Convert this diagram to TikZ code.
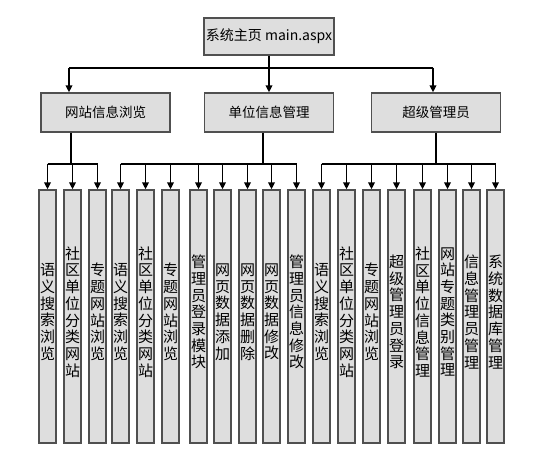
\documentclass[tikz,border=0pt]{standalone}
\usepackage{fontspec}
\newfontfamily\cjk{Noto Sans CJK SC}
\usetikzlibrary{arrows.meta,calc}
\definecolor{boxfill}{HTML}{DEDEDE}
\definecolor{boxline}{HTML}{505050}
\newcommand\leafnode[3]{%
  \node[leaf] (#1) at (#2,316.5) {};
  \node[leaftext] (#1t) at ([yshift=4.5pt]#1.center) {#3};}
\begin{document}
\begin{tikzpicture}[x=1pt,y=-1pt,
  box/.style={draw=boxline,fill=boxfill,line width=1.3pt,inner sep=0pt},
  topbox/.style={box,minimum width=130pt,minimum height=37pt,font=\cjk\fontsize{14}{16}\selectfont},
  midbox/.style={box,minimum width=129pt,minimum height=39pt,font=\cjk\fontsize{13.5}{16}\selectfont},
  leaf/.style={box,minimum width=17pt,minimum height=253pt},
  leaftext/.style={inner sep=0pt,align=center,font=\cjk\fontsize{15}{16.7}\selectfont},
  ln/.style={draw=black,line width=1.8pt},
  arr/.style={ln,-{Triangle[width=6.5pt,length=7pt]}}]
\useasboundingbox (0,0) rectangle (537,458);
\node[topbox] (top) at (269,36.5) {系统主页 main.aspx};
\node[midbox] (l1) at (105.5,112.5) {网站信息浏览};
\node[midbox] (l2) at (269,112.5) {单位信息管理};
\node[midbox] (l3) at (436,112.5) {超级管理员};
% leaves
\leafnode{c1}{47.5}{语\\义\\搜\\索\\浏\\览}
\leafnode{c2}{72.5}{社\\区\\单\\位\\分\\类\\网\\站}
\leafnode{c3}{97.5}{专\\题\\网\\站\\浏\\览}
\leafnode{c4}{120.5}{语\\义\\搜\\索\\浏\\览}
\leafnode{c5}{145.5}{社\\区\\单\\位\\分\\类\\网\\站}
\leafnode{c6}{170.5}{专\\题\\网\\站\\浏\\览}
\leafnode{c7}{198.5}{管\\理\\员\\登\\录\\模\\块}
\leafnode{c8}{222.5}{网\\页\\数\\据\\添\\加}
\leafnode{c9}{247.5}{网\\页\\数\\据\\删\\除}
\leafnode{c10}{271.5}{网\\页\\数\\据\\修\\改}
\leafnode{c11}{296.5}{管\\理\\员\\信\\息\\修\\改}
\leafnode{c12}{321.5}{语\\义\\搜\\索\\浏\\览}
\leafnode{c13}{346.5}{社\\区\\单\\位\\分\\类\\网\\站}
\leafnode{c14}{371.5}{专\\题\\网\\站\\浏\\览}
\leafnode{c15}{396.5}{超\\级\\管\\理\\员\\登\\录}
\leafnode{c16}{422.5}{社\\区\\单\\位\\信\\息\\管\\理}
\leafnode{c17}{447.5}{网\\站\\专\\题\\类\\别\\管\\理}
\leafnode{c18}{471.5}{信\\息\\管\\理\\员\\管\\理}
\leafnode{c19}{495.5}{系\\统\\数\\据\\库\\管\\理}
% top level connectors
\draw[ln] (top.south) -- ++(0,12) coordinate (h0);
\draw[ln] ([xshift=-36.5pt]l1.north |- h0) -- ([xshift=-3pt]l3.north |- h0);
\draw[arr] ([xshift=-36.5pt]l1.north |- h0) -- ([xshift=-36.5pt]l1.north);
\draw[arr] (h0) -- (l2.north);
\draw[arr] ([xshift=-3pt]l3.north |- h0) -- ([xshift=-3pt]l3.north);
% group 1
\draw[ln] ([xshift=-34.5pt]l1.south) -- ++(0,31) coordinate (b1);
\draw[ln] (c1.north |- b1) -- (c3.north |- b1);
\foreach \c in {c1,c2,c3} \draw[arr] (\c.north |- b1) -- (\c.north);
% group 2
\draw[ln] ([xshift=-6pt]l2.south) -- ++(0,31) coordinate (b2);
\draw[ln] (c4.north |- b2) -- (c11.north |- b2);
\foreach \c in {c4,c5,c6,c7,c8,c9,c10,c11} \draw[arr] (\c.north |- b2) -- (\c.north);
% group 3
\draw[ln] (l3.south) -- ++(0,31) coordinate (b3);
\draw[ln] (c12.north |- b3) -- (c19.north |- b3);
\foreach \c in {c12,c13,c14,c15,c16,c17,c18,c19} \draw[arr] (\c.north |- b3) -- (\c.north);
\end{tikzpicture}
\end{document}
